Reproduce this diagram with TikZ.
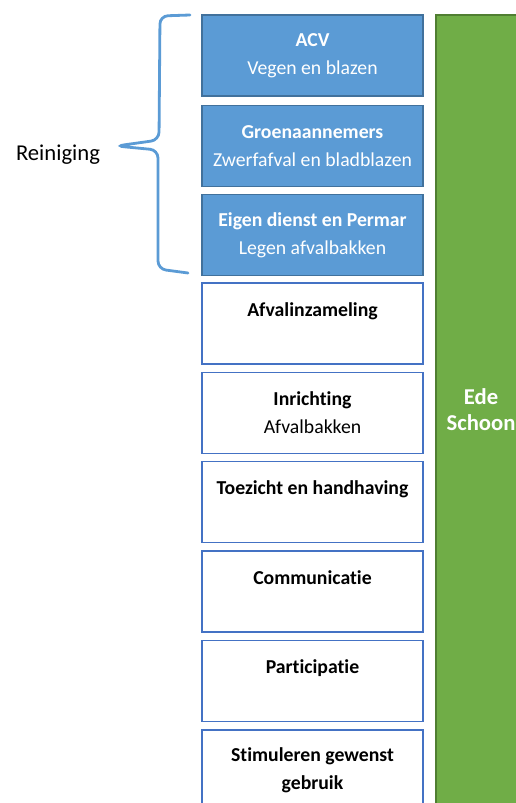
\documentclass[tikz,border=0pt]{standalone}
\usepackage{fontspec}
\setmainfont{Carlito}[Ligatures=NoCommon]
\usepackage{xcolor}
\usetikzlibrary{positioning}
\definecolor{blauwvlak}{RGB}{91,155,213}
\definecolor{blauwrand}{RGB}{65,113,156}
\definecolor{witrand}{RGB}{68,114,196}
\definecolor{groenvlak}{RGB}{112,173,71}
\definecolor{groenrand}{RGB}{80,126,50}
\definecolor{haak}{RGB}{91,155,213}

\tikzset{
  taak/.style={rectangle, minimum width=165.75pt, minimum height=60.75pt, inner sep=0pt,
    align=center, font=\fontsize{14.8}{21}\selectfont, line width=1.1pt},
  uitvoering/.style={taak, draw=blauwrand, fill=blauwvlak, text=white},
  beleid/.style={taak, draw=witrand, fill=white, text=black},
}

\begin{document}
\begin{tikzpicture}[x=0.75pt,y=-0.75pt]
            \useasboundingbox (0,0) rectangle (516,803);
            % doel
            \node[rectangle, draw=groenrand, fill=groenvlak, line width=1.1pt, minimum width=67.5pt, minimum height=592pt, inner sep=0pt,
                  text=white, align=center, font=\fontsize{17}{19.5}\selectfont\bfseries] at (481,409.5) (schoon) {Ede\\Schoon};
            % reiniging
            \node[uitvoering] at (312.5,55.5) (acv) {\textbf{ACV}\\Vegen en blazen};
            \node[uitvoering] at (312.5,146) (groen) {\textbf{Groenaannemers}\\Zwerfafval en bladblazen};
            \node[uitvoering] at (312.5,235) (eigen) {\textbf{Eigen dienst en Permar}\\Legen afvalbakken};
            % overige taken
            \node[beleid] at (312.5,323.5) (inzameling) {\textbf{Afvalinzameling}\\\mbox{}};
            \node[beleid] at (312.5,413) (inrichting) {\textbf{Inrichting}\\Afvalbakken};
            \node[beleid] at (312.5,502) (toezicht) {\textbf{Toezicht en handhaving}\\\mbox{}};
            \node[beleid] at (312.5,591.5) (communicatie) {\textbf{Communicatie}\\\mbox{}};
            \node[beleid] at (312.5,681) (participatie) {\textbf{Participatie}\\\mbox{}};
            \node[beleid] at (312.5,770.5) (stimuleren) {\textbf{Stimuleren gewenst}\\\textbf{gebruik}};
            % accolade
            \node[font=\fontsize{17}{20}\selectfont] at (58,155) (reiniging) {Reiniging};
            \coordinate (boven) at (190,15);
            \coordinate (onder) at (188,273);
            \coordinate (punt) at (116,146);
            \draw[haak, line width=2.1pt, line cap=round, rounded corners=6pt]
                (boven) -- (160,16) -- (159,140) -- (punt) -- (158,150) -- (158,269) -- (onder);
        \end{tikzpicture}
\end{document}
